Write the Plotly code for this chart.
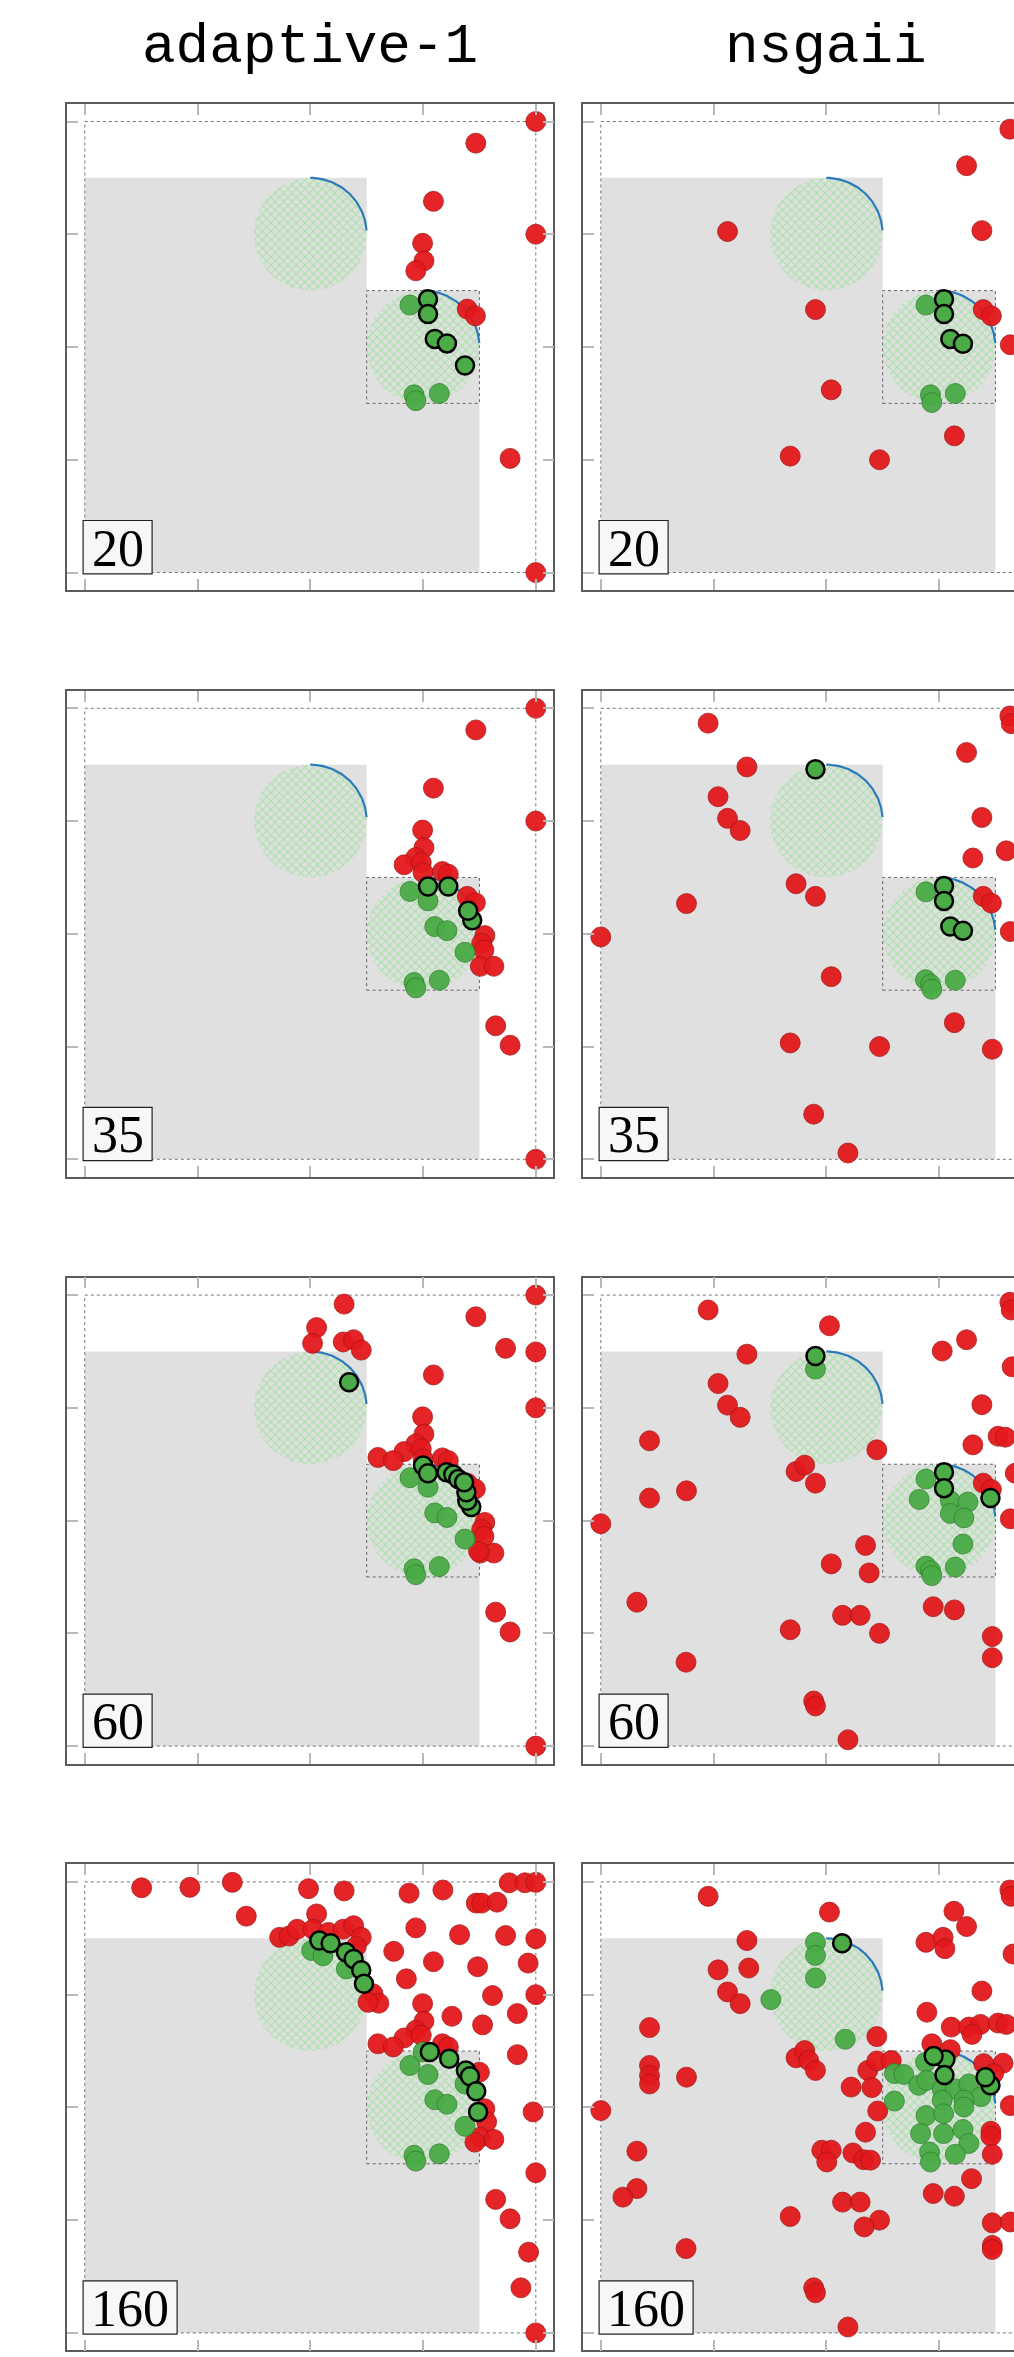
import numpy as np
import plotly.graph_objects as go

# ---------------------------------------------------------------------------
# Population snapshots (objective space, normalised to [0, 1]).
#   *_RED   : infeasible / rejected individuals
#   *_FEAS  : feasible individuals found so far
#   *_FRONT : current best (non-dominated) feasible individuals
# ---------------------------------------------------------------------------
ALGORITHMS = ["adaptive-1", "nsgaii"]
GENERATIONS = [20, 35, 60, 160]
TICKS = [0, 0.25, 0.5, 0.75, 1.0]

ADAPT_20_RED = [(1.0, 1.0), (0.867, 0.952), (0.773, 0.823), (0.749, 0.730), (0.752, 0.691),
                (0.734, 0.669), (1.0, 0.750), (0.848, 0.584), (0.866, 0.569), (0.943, 0.253),
                (1.0, 0.0)]
ADAPT_20_FEAS = [(0.721, 0.593), (0.730, 0.394), (0.734, 0.381), (0.786, 0.397)]
ADAPT_20_FRONT = [(0.761, 0.606), (0.761, 0.573), (0.776, 0.518), (0.803, 0.508), (0.843, 0.459)]

ADAPT_35_RED = [(1.0, 1.0), (0.867, 0.952), (0.773, 0.823), (0.749, 0.730), (1.0, 0.750),
                (0.752, 0.691), (0.734, 0.669), (0.708, 0.653), (0.746, 0.658), (0.750, 0.636),
                (0.793, 0.638), (0.806, 0.632), (0.848, 0.583), (0.866, 0.569), (0.887, 0.496),
                (0.880, 0.479), (0.885, 0.464), (0.877, 0.428), (0.907, 0.428), (0.911, 0.296),
                (0.943, 0.253), (1.0, 0.0)]
ADAPT_35_FEAS = [(0.721, 0.594), (0.761, 0.573), (0.776, 0.516), (0.803, 0.507), (0.843, 0.459),
                 (0.730, 0.392), (0.734, 0.380), (0.786, 0.397)]
ADAPT_35_FRONT = [(0.761, 0.605), (0.806, 0.605), (0.859, 0.530), (0.850, 0.551)]

ADAPT_60_RED = [(1.0, 1.0), (0.575, 0.980), (0.867, 0.952), (0.514, 0.928), (0.505, 0.893),
                (0.573, 0.896), (0.596, 0.901), (0.613, 0.878), (0.933, 0.882), (1.0, 0.874),
                (0.773, 0.823), (1.0, 0.750), (0.749, 0.730), (0.752, 0.692), (0.734, 0.670),
                (0.708, 0.653), (0.650, 0.640), (0.684, 0.633), (0.746, 0.659), (0.750, 0.637),
                (0.793, 0.639), (0.806, 0.633), (0.848, 0.583), (0.866, 0.570), (0.887, 0.496),
                (0.880, 0.480), (0.885, 0.465), (0.877, 0.428), (0.907, 0.428), (0.873, 0.432),
                (0.911, 0.297), (0.943, 0.253), (1.0, 0.0)]
ADAPT_60_FEAS = [(0.721, 0.595), (0.761, 0.574), (0.776, 0.517), (0.803, 0.507), (0.843, 0.459),
                 (0.730, 0.393), (0.734, 0.380), (0.786, 0.398)]
ADAPT_60_FRONT = [(0.586, 0.807), (0.750, 0.622), (0.761, 0.605), (0.802, 0.607), (0.817, 0.602),
                  (0.828, 0.592), (0.857, 0.530), (0.848, 0.544), (0.846, 0.563), (0.841, 0.585)]

ADAPT_160_RED = [(0.126, 0.987), (0.233, 0.988), (0.327, 0.999), (0.496, 0.985), (0.575, 0.980),
                 (0.719, 0.975), (0.794, 0.982), (0.941, 0.998), (0.976, 0.998), (1.0, 0.999),
                 (0.868, 0.953), (0.880, 0.953), (0.914, 0.955), (0.358, 0.924), (0.514, 0.929),
                 (0.734, 0.898), (0.831, 0.883), (0.933, 0.881), (1.0, 0.874), (0.432, 0.877),
                 (0.453, 0.880), (0.471, 0.895), (0.506, 0.895), (0.540, 0.888), (0.573, 0.895),
                 (0.596, 0.903), (0.613, 0.877), (0.602, 0.857), (0.639, 0.752), (0.652, 0.731),
                 (0.628, 0.733), (0.685, 0.846), (0.773, 0.823), (0.871, 0.812), (0.983, 0.820),
                 (0.713, 0.785), (0.904, 0.748), (1.0, 0.750), (0.749, 0.730), (0.814, 0.702),
                 (0.882, 0.683), (0.959, 0.708), (0.752, 0.691), (0.734, 0.671), (0.708, 0.654),
                 (0.650, 0.641), (0.684, 0.634), (0.746, 0.660), (0.959, 0.617), (0.793, 0.641),
                 (0.806, 0.634), (0.875, 0.578), (0.887, 0.497), (0.891, 0.468), (0.877, 0.434),
                 (0.907, 0.429), (0.865, 0.423), (0.994, 0.490), (1.0, 0.355), (0.911, 0.296),
                 (0.943, 0.253), (0.984, 0.179), (0.967, 0.100), (1.0, 0.0)]
ADAPT_160_FEAS = [(0.503, 0.848), (0.528, 0.836), (0.580, 0.807), (0.721, 0.593), (0.761, 0.573),
                  (0.776, 0.517), (0.803, 0.507), (0.843, 0.458), (0.730, 0.394), (0.734, 0.381),
                  (0.786, 0.397), (0.750, 0.623), (0.843, 0.552)]
ADAPT_160_FRONT = [(0.520, 0.870), (0.545, 0.864), (0.579, 0.844), (0.596, 0.829), (0.613, 0.804),
                   (0.619, 0.774), (0.765, 0.623), (0.808, 0.608), (0.845, 0.582), (0.854, 0.569),
                   (0.868, 0.536), (0.872, 0.490)]

NSGA_20_RED = [(0.907, 0.983), (0.811, 0.902), (0.845, 0.758), (0.281, 0.756), (0.476, 0.583),
               (0.848, 0.583), (0.866, 0.569), (0.908, 0.505), (0.511, 0.405), (0.784, 0.303),
               (0.420, 0.258), (0.618, 0.250)]
NSGA_20_FEAS = [(0.721, 0.593), (0.731, 0.394), (0.734, 0.377), (0.786, 0.397)]
NSGA_20_FRONT = [(0.761, 0.606), (0.761, 0.573), (0.775, 0.518), (0.803, 0.507)]

NSGA_35_RED = [(0.238, 0.967), (0.907, 0.983), (0.910, 0.966), (0.811, 0.902), (0.324, 0.870),
               (0.260, 0.804), (0.281, 0.756), (0.309, 0.729), (0.845, 0.758), (0.899, 0.684),
               (0.825, 0.668), (0.433, 0.611), (0.476, 0.583), (0.190, 0.567), (0.0, 0.493),
               (0.848, 0.583), (0.866, 0.568), (0.908, 0.505), (0.511, 0.405), (0.784, 0.303),
               (0.420, 0.258), (0.618, 0.250), (0.868, 0.244), (0.472, 0.100), (0.548, 0.014)]
NSGA_35_FEAS = [(0.721, 0.593), (0.720, 0.398), (0.731, 0.388), (0.734, 0.377), (0.786, 0.397)]
NSGA_35_FRONT = [(0.476, 0.865), (0.761, 0.606), (0.761, 0.573), (0.775, 0.516), (0.803, 0.507)]

NSGA_60_RED = [(0.238, 0.967), (0.907, 0.984), (0.910, 0.967), (0.507, 0.932), (0.811, 0.901),
               (0.757, 0.876), (0.912, 0.841), (0.324, 0.869), (0.260, 0.804), (0.281, 0.756),
               (0.309, 0.729), (0.845, 0.757), (0.881, 0.687), (0.897, 0.685), (0.825, 0.668),
               (0.108, 0.677), (0.612, 0.657), (0.433, 0.609), (0.452, 0.623), (0.476, 0.583),
               (0.190, 0.566), (0.108, 0.550), (0.0, 0.493), (0.848, 0.583), (0.866, 0.569),
               (0.919, 0.605), (0.908, 0.504), (0.587, 0.445), (0.511, 0.404), (0.595, 0.384),
               (0.080, 0.319), (0.737, 0.309), (0.784, 0.302), (0.536, 0.290), (0.575, 0.290),
               (0.420, 0.258), (0.618, 0.250), (0.868, 0.243), (0.868, 0.196), (0.189, 0.186),
               (0.472, 0.100), (0.476, 0.089), (0.548, 0.014)]
NSGA_60_FEAS = [(0.476, 0.836), (0.721, 0.592), (0.706, 0.547), (0.775, 0.544), (0.814, 0.541),
                (0.775, 0.516), (0.805, 0.506), (0.803, 0.448), (0.721, 0.399), (0.731, 0.389),
                (0.734, 0.378), (0.786, 0.397)]
NSGA_60_FRONT = [(0.476, 0.865), (0.761, 0.607), (0.761, 0.572), (0.864, 0.550)]

NSGA_160_RED = [(0.238, 0.968), (0.907, 0.982), (0.910, 0.968), (0.507, 0.933), (0.783, 0.935),
                (0.811, 0.901), (0.721, 0.866), (0.759, 0.877), (0.763, 0.852), (0.914, 0.840),
                (0.324, 0.870), (0.260, 0.805), (0.328, 0.809), (0.281, 0.756), (0.309, 0.730),
                (0.845, 0.758), (0.723, 0.711), (0.108, 0.677), (0.108, 0.593), (0.108, 0.571),
                (0.108, 0.552), (0.190, 0.567), (0.0, 0.493), (0.612, 0.657), (0.433, 0.610),
                (0.452, 0.626), (0.461, 0.604), (0.476, 0.582), (0.592, 0.582), (0.601, 0.544),
                (0.555, 0.545), (0.612, 0.603), (0.644, 0.604), (0.614, 0.492), (0.587, 0.445),
                (0.777, 0.678), (0.816, 0.678), (0.842, 0.684), (0.881, 0.687), (0.899, 0.684),
                (0.823, 0.662), (0.734, 0.641), (0.775, 0.628), (0.849, 0.597), (0.892, 0.598),
                (0.871, 0.575), (0.908, 0.504), (0.865, 0.447), (0.865, 0.436), (0.868, 0.396),
                (0.822, 0.342), (0.737, 0.309), (0.784, 0.303), (0.868, 0.244), (0.908, 0.246),
                (0.868, 0.194), (0.868, 0.185), (0.490, 0.405), (0.511, 0.405), (0.501, 0.379),
                (0.559, 0.399), (0.583, 0.384), (0.598, 0.383), (0.080, 0.403), (0.080, 0.320),
                (0.049, 0.301), (0.536, 0.290), (0.575, 0.290), (0.420, 0.258), (0.618, 0.250),
                (0.584, 0.235), (0.189, 0.187), (0.472, 0.100), (0.476, 0.089), (0.548, 0.013)]
NSGA_160_FEAS = [(0.476, 0.866), (0.476, 0.837), (0.476, 0.787), (0.377, 0.739), (0.542, 0.651),
                 (0.651, 0.575), (0.672, 0.573), (0.651, 0.514), (0.720, 0.600), (0.705, 0.549),
                 (0.723, 0.560), (0.757, 0.541), (0.786, 0.541), (0.816, 0.552), (0.843, 0.524),
                 (0.757, 0.516), (0.805, 0.516), (0.805, 0.501), (0.721, 0.482), (0.760, 0.486),
                 (0.709, 0.442), (0.760, 0.442), (0.803, 0.451), (0.816, 0.420), (0.729, 0.401),
                 (0.731, 0.379), (0.786, 0.396)]
NSGA_160_FRONT = [(0.535, 0.864), (0.764, 0.606), (0.738, 0.614), (0.762, 0.572), (0.864, 0.549),
                  (0.853, 0.567)]

SNAPSHOTS = {
    ("adaptive-1", 20): (ADAPT_20_RED, ADAPT_20_FEAS, ADAPT_20_FRONT),
    ("adaptive-1", 35): (ADAPT_35_RED, ADAPT_35_FEAS, ADAPT_35_FRONT),
    ("adaptive-1", 60): (ADAPT_60_RED, ADAPT_60_FEAS, ADAPT_60_FRONT),
    ("adaptive-1", 160): (ADAPT_160_RED, ADAPT_160_FEAS, ADAPT_160_FRONT),
    ("nsgaii", 20): (NSGA_20_RED, NSGA_20_FEAS, NSGA_20_FRONT),
    ("nsgaii", 35): (NSGA_35_RED, NSGA_35_FEAS, NSGA_35_FRONT),
    ("nsgaii", 60): (NSGA_60_RED, NSGA_60_FEAS, NSGA_60_FRONT),
    ("nsgaii", 160): (NSGA_160_RED, NSGA_160_FEAS, NSGA_160_FRONT),
}

# Problem geometry: infeasible (grey) region and the two target discs
OBSTACLE_X = [0.0, 0.0, 0.625, 0.625, 0.875, 0.875]
OBSTACLE_Y = [0.0, 0.875, 0.875, 0.625, 0.625, 0.0]
DISC_CENTERS = [(0.5, 0.75), (0.75, 0.5)]
DISC_RADIUS = 0.125

# ---------------------------------------------------------------------------
# Page layout (pixels)
# ---------------------------------------------------------------------------
W, H = 1014, 2357
PANEL = 486.0
PAD = 0.0388
COL_X = [67.3, 583.3]
ROW_Y = [104.0, 690.8, 1277.6, 1864.4]
SPAN = 1 + 2 * PAD
PX_PER_UNIT = PANEL / SPAN

RED = "#e3191c"
GREEN = "#4aab47"

fig = go.Figure()
shapes, annotations = [], []
layout_axes = {}


def unpack(points):
    return [p[0] for p in points], [p[1] for p in points]


for r, gen in enumerate(GENERATIONS):
    for c, algo in enumerate(ALGORITHMS):
        idx = r * 2 + c + 1
        sfx = "" if idx == 1 else str(idx)
        xref, yref = "x" + sfx, "y" + sfx

        x0 = COL_X[c]
        x1 = min(W, x0 + PANEL)
        visible = (x1 - x0) / PANEL * SPAN
        y0 = ROW_Y[r]

        common = dict(showgrid=False, zeroline=False, showticklabels=False,
                      ticks="inside", ticklen=11, tickwidth=1.5, tickcolor="#b8b8b8",
                      tickvals=TICKS, showline=True, linecolor="#5c5c5c", linewidth=1.5,
                      fixedrange=True)
        layout_axes["xaxis" + sfx] = dict(common, domain=[x0 / W, x1 / W],
                                          range=[-PAD, -PAD + visible],
                                          mirror="ticks", anchor=yref)
        layout_axes["yaxis" + sfx] = dict(common,
                                          domain=[1 - (y0 + PANEL) / H, 1 - y0 / H],
                                          range=[-PAD, 1 + PAD],
                                          mirror="ticks" if c == 0 else False,
                                          anchor=xref)

        # grey infeasible region
        path = "M " + " L ".join(f"{a},{b}" for a, b in zip(OBSTACLE_X, OBSTACLE_Y)) + " Z"
        shapes.append(dict(type="path", path=path, xref=xref, yref=yref, layer="below",
                           fillcolor="#e0e0e0", line=dict(width=0)))
        # unit box and box around the lower disc
        shapes.append(dict(type="rect", x0=0, y0=0, x1=1, y1=1, xref=xref, yref=yref,
                           layer="below", line=dict(color="#777777", width=1, dash="dot")))
        cx, cy = DISC_CENTERS[1]
        shapes.append(dict(type="rect", x0=cx - DISC_RADIUS, y0=cy - DISC_RADIUS,
                           x1=cx + DISC_RADIUS, y1=cy + DISC_RADIUS, xref=xref, yref=yref,
                           layer="below", line=dict(color="#666666", width=1, dash="dot")))

        # hatched target discs with their optimal (upper-right) arcs
        t = np.linspace(0, 2 * np.pi, 181)
        arc = np.linspace(np.radians(4), np.pi / 2, 60)
        for (dx, dy) in DISC_CENTERS:
            fig.add_trace(go.Scatter(
                x=dx + DISC_RADIUS * np.cos(t), y=dy + DISC_RADIUS * np.sin(t),
                mode="lines", fill="toself", line=dict(width=0, color="rgba(0,0,0,0)"),
                fillcolor="rgba(0,0,0,0)",
                fillpattern=dict(shape="x", fgcolor="#7fe47f", bgcolor="rgba(0,0,0,0)",
                                 size=6, solidity=0.4),
                xaxis=xref, yaxis=yref, hoverinfo="skip", showlegend=False))
            fig.add_trace(go.Scatter(
                x=dx + DISC_RADIUS * np.cos(arc), y=dy + DISC_RADIUS * np.sin(arc),
                mode="lines", line=dict(color="#2b7bba", width=2.2),
                xaxis=xref, yaxis=yref, hoverinfo="skip", showlegend=False))

        red, feas, front = SNAPSHOTS[(algo, gen)]
        rx, ry = unpack(red)
        fig.add_trace(go.Scatter(
            x=rx, y=ry, mode="markers", xaxis=xref, yaxis=yref, showlegend=False,
            marker=dict(size=20, color=RED, opacity=0.95,
                        line=dict(color="#a31515", width=0.8))))
        gx, gy = unpack(feas)
        fig.add_trace(go.Scatter(
            x=gx, y=gy, mode="markers", xaxis=xref, yaxis=yref, showlegend=False,
            marker=dict(size=20, color=GREEN, opacity=0.95,
                        line=dict(color="#2f7d2c", width=0.8))))
        fx, fy = unpack(front)
        fig.add_trace(go.Scatter(
            x=fx, y=fy, mode="markers", xaxis=xref, yaxis=yref, showlegend=False,
            marker=dict(size=18, color=GREEN, line=dict(color="black", width=2.5))))

        # generation label box in the lower-left corner
        label = str(gen)
        bw = (19 + 25 * len(label)) / PX_PER_UNIT
        bl = -1.7 / PX_PER_UNIT
        bb = -1.3 / PX_PER_UNIT
        bh = 53.3 / PX_PER_UNIT
        shapes.append(dict(type="rect", x0=bl, y0=bb, x1=bl + bw, y1=bb + bh,
                           xref=xref, yref=yref, layer="above",
                           fillcolor="#f7f7f7", line=dict(color="#222222", width=1.2)))
        annotations.append(dict(text=label, x=bl + bw / 2, y=bb + bh / 2 - 1 / PX_PER_UNIT,
                                xref=xref, yref=yref, xanchor="center", yanchor="middle",
                                showarrow=False,
                                font=dict(family="Liberation Serif", size=52, color="black")))

# column titles
for c, algo in enumerate(ALGORITHMS):
    annotations.append(dict(text=algo, x=(COL_X[c] + PANEL / 2) / W, y=1 - 47 / H,
                            xref="paper", yref="paper", xanchor="center", yanchor="middle",
                            showarrow=False,
                            font=dict(family="Liberation Mono", size=56, color="black")))

fig.update_layout(width=W, height=H, margin=dict(l=0, r=0, t=0, b=0),
                  paper_bgcolor="white", plot_bgcolor="white",
                  shapes=shapes, annotations=annotations, showlegend=False,
                  **layout_axes)

fig.write_html("out.html", config={"displayModeBar": False})
